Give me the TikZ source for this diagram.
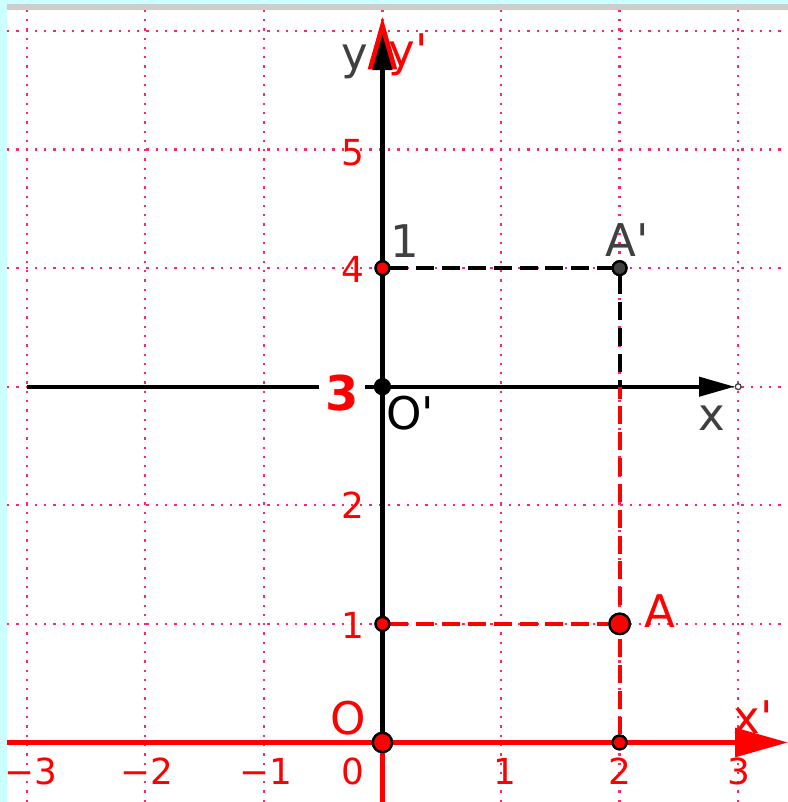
\documentclass[tikz,border=0pt]{standalone}
\usepackage{fontspec}
\newfontfamily\dejavu{DejaVu Sans}
\usetikzlibrary{arrows.meta,positioning}
\definecolor{racsszin}{RGB}{255,40,100}
\definecolor{szurke}{RGB}{64,64,64}
\definecolor{cian}{RGB}{204,255,255}
\definecolor{keret}{RGB}{205,205,205}
\tikzset{
  racs/.style={racsszin,line width=0.55pt,dash pattern=on 0.55pt off 1.68pt},
  piros/.style={red,line width=1.1pt,-{Triangle[length=4.45mm,width=2.4mm]}},
  fekete/.style={black,line width=1pt,-{Triangle[length=3mm,width=1.6mm]}},
  szagg/.style={line width=1pt,dash pattern=on 4.3pt off 1.9pt},
  pont/.style={circle,draw=black,line width=0.55pt,fill=red,inner sep=0pt,minimum size=3.3pt},
  nagypont/.style={pont,minimum size=4.6pt},
  veg/.style={circle,draw=szurke,fill=white,inner sep=0pt,minimum size=1.4pt,line width=0.3pt},
  betu/.style={font=\dejavu\fontsize{10.8}{12}\selectfont,inner sep=0pt},
  szam/.style={red,font=\dejavu\fontsize{8.6}{10}\selectfont,inner sep=0pt},
}

\begin{document}
\begin{tikzpicture}
  \useasboundingbox (-3.225,-0.502) rectangle (3.419,6.261);
  % keret
  \fill[cian] (-3.225,-0.502) rectangle (-3.166,6.261);
  \fill[cian] (-3.225,6.227) rectangle (3.419,6.261);
  \fill[keret] (-3.166,6.177) rectangle (3.419,6.227);
  % racs
  \foreach \i in {-3,...,3}
    \draw[racs] (\i,-0.502) -- (\i,6.177);
  \foreach \j in {0,...,6}
    \draw[racs] (-3.166,\j) -- (3.419,\j);

  \node[veg] (ycs) at (0,6) {};
  \node[veg] (xcs) at (3,3) {};
  \coordinate (xk) at (-3.166,0);
  \coordinate (xv) at (3.419,0);
  \coordinate (ya) at (0,-0.502);
  \coordinate (yf) at (0,6.12);
  \coordinate (xb) at (-3,3);
  \coordinate (k) at (2,3);

  % regi tengelyek
  \draw[piros] (xk) -- (xv);
  \draw[piros] (ya) -- (yf);

  \node[nagypont] (O) at (0,0) {};
  \node[pont] (a2) at (2,0) {};
  \node[pont] (e1) at (0,1) {};
  \node[nagypont,minimum size=4.9pt] (A) at (2,1) {};
  \node[pont] (n4) at (0,4) {};
  \node[pont,fill=szurke] (Av) at (2,4) {};

  % uj tengelyek
  \draw[fekete] (O) -- (ycs);
  \draw[fekete] (xb) -- (xcs);
  \node[betu,red,font=\dejavu\bfseries\fontsize{11.5}{12}\selectfont,fill=white,
    minimum width=0.38cm,minimum height=0.3cm] (h) at (-0.341,2.95) {3};
  \node[pont,fill=black,minimum size=3.6pt] (Ov) at (0,3) {};

  \draw[szagg,red] (e1) -- (A);
  \draw[szagg,red] (a2) -- (k);
  \draw[szagg] (n4) -- (Av);
  \draw[szagg] (Av) -- (k);
  \node[pont] at (n4) {};
  \node[pont,fill=szurke] at (Av) {};
  \node[pont] at (e1) {};
  \node[pont] at (a2) {};
  \node[nagypont,minimum size=4.9pt] at (A) {};
  \node[nagypont] at (O) {};

  % szamok
  \foreach \x/\t in {-2.964/−3,-1.986/−2,-0.982/−1,-0.249/0,1.033/1,2.003/2,3.007/3}
    \node[szam] at (\x,-0.245) {\t};
  \foreach \y/\t in {0.991/1,2.0/2,3.99/4,4.97/5}
    \node[szam] at (-0.245,\y) {\t};

  % feliratok
  \node[betu,szurke] (ly) at (-0.236,5.742) {y};
  \node[betu,red] (lyv) at (0.219,5.80) {y\textquotesingle};
  \node[betu,szurke] (l1) at (0.190,4.228) {1};
  \node[betu,szurke] (lAv) at (2.061,4.237) {A\textquotesingle};
  \node[betu] (lOv) at (0.232,2.778) {O\textquotesingle};
  \node[betu,szurke] (lx) at (2.778,2.737) {x};
  \node[betu,red] (lA) at (2.340,1.109) {A};
  \node[betu,red] (lO) at (-0.291,0.207) {O};
  \node[betu,red] (lxv) at (3.124,0.215) {x\textquotesingle};
\end{tikzpicture}
\end{document}
